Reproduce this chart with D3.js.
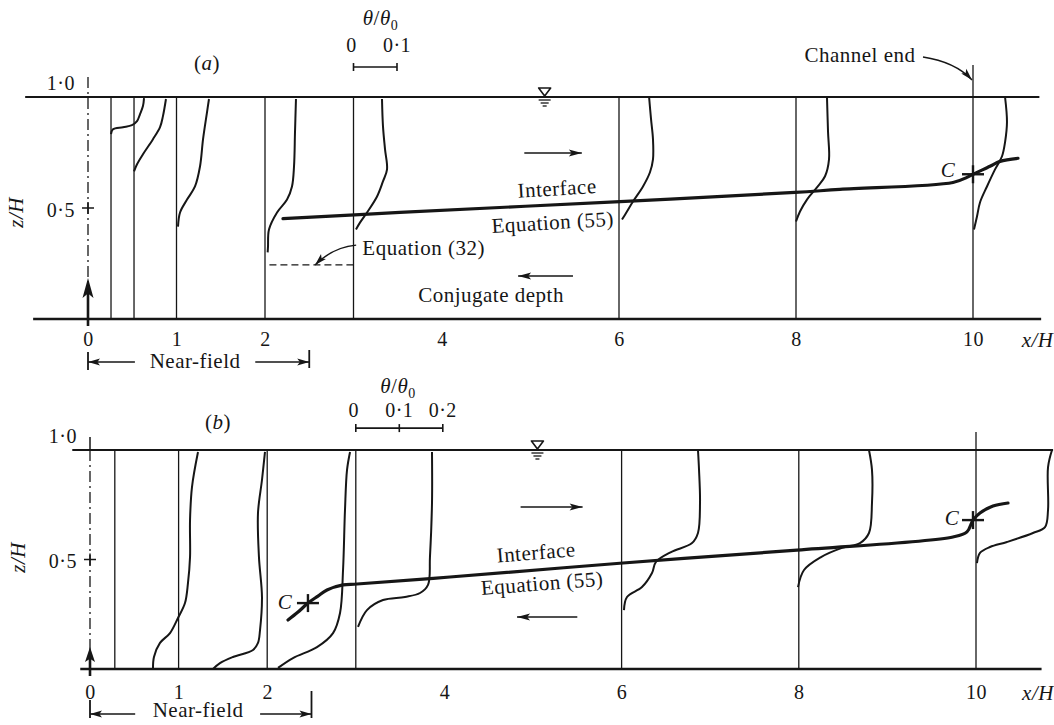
<!DOCTYPE html>
<html>
<head>
<meta charset="utf-8">
<script src="https://cdn.jsdelivr.net/npm/d3@7"></script>
<style>
  body { margin: 0; background: #fff; }
  svg text { font-family: "Liberation Serif", "Times New Roman", serif; fill: #161616; letter-spacing: 0.5px; }
</style>
</head>
<body>
<svg id="fig" width="1054" height="725"></svg>
<script>
// ---- axis ticks -------------------------------------------------------
const xTicks = [0, 1, 2, 4, 6, 8, 10];          // x/H
const zTicks = [0.5, 1.0];                        // z/H
const thetaTicksA = [0, 0.1];                     // θ/θ0 scale bar, panel (a)
const thetaTicksB = [0, 0.1, 0.2];                // θ/θ0 scale bar, panel (b)
const nearField = [0, 2.5];                       // extent of near-field, x/H

// ---- measuring stations (x/H) ---------------------------------------------
const stationsA = [0.26, 0.52, 1, 2, 3, 6, 8, 10];
const stationsB = [0.28, 1, 2, 3, 6, 8, 10];

// ---- panel (a): temperature profiles, points are [x/H, z/H] ----------------
const profA_026 = [[0.26,0.833],[0.282,0.855],[0.395,0.864],[0.497,0.873],[0.554,0.891],[0.588,0.923],[0.621,0.959],[0.633,0.995]];
const profA_052 = [[0.52,0.665],[0.554,0.697],[0.621,0.742],[0.734,0.81],[0.814,0.864],[0.847,0.914],[0.881,0.991]];
const profA_1   = [[1.017,0.416],[1.04,0.48],[1.119,0.538],[1.209,0.597],[1.266,0.688],[1.3,0.81],[1.345,0.932],[1.367,0.991]];
const profA_2   = [[2.03,0.30],[2.034,0.326],[2.045,0.403],[2.136,0.48],[2.249,0.538],[2.305,0.597],[2.328,0.688],[2.339,0.842],[2.35,0.991]];
const profA_3   = [[3.028,0.403],[3.073,0.434],[3.153,0.48],[3.266,0.552],[3.333,0.62],[3.379,0.674],[3.356,0.765],[3.333,0.869],[3.322,0.991]];
const profA_6   = [[6.034,0.448],[6.09,0.484],[6.158,0.529],[6.271,0.597],[6.35,0.661],[6.384,0.719],[6.384,0.81],[6.362,0.9],[6.34,1.0]];
const profA_8   = [[8.0,0.439],[8.045,0.484],[8.124,0.538],[8.237,0.593],[8.328,0.643],[8.373,0.719],[8.362,0.842],[8.35,1.0]];
const profA_10  = [[10.011,0.403],[10.045,0.462],[10.079,0.525],[10.158,0.597],[10.249,0.674],[10.328,0.733],[10.362,0.796],[10.384,0.887],[10.362,1.0]];

// interface, Equation (55), and conjugate depth, Equation (32)
const interfaceA = [[2.203,0.452],[3.525,0.48],[6.011,0.529],[7.989,0.57],[8.497,0.584],[9.774,0.615],[9.932,0.638],[10.0,0.652],[10.192,0.688],[10.305,0.71],[10.508,0.724]];
const conjugateA = [[2.05,0.244],[3.02,0.244]];
const criticalA  = [[10.0,0.652]];

// ---- panel (b): temperature profiles -----------------------------------------
const profB_near1 = [[0.711,0],[0.722,0.055],[0.79,0.119],[0.903,0.164],[0.993,0.233],[1.072,0.301],[1.106,0.393],[1.129,0.511],[1.129,0.68],[1.151,0.831],[1.219,0.991]];
const profB_near2 = [[1.388,0],[1.467,0.027],[1.614,0.055],[1.84,0.087],[1.896,0.119],[1.919,0.178],[1.941,0.329],[1.907,0.511],[1.896,0.712],[1.941,0.863],[1.975,0.991]];
const profB_near3 = [[2.122,0.005],[2.291,0.05],[2.562,0.1],[2.743,0.164],[2.822,0.256],[2.856,0.452],[2.878,0.726],[2.901,0.909],[2.935,0.991]];
const profB_3   = [[3.025,0.192],[3.126,0.269],[3.307,0.315],[3.555,0.329],[3.725,0.347],[3.815,0.384],[3.837,0.511],[3.86,0.758],[3.86,0.991]];
const profB_6   = [[6.027,0.269],[6.061,0.329],[6.23,0.374],[6.343,0.438],[6.388,0.489],[6.558,0.534],[6.795,0.575],[6.862,0.621],[6.885,0.758],[6.874,0.909],[6.862,1.0]];
const profB_8   = [[7.991,0.374],[8.059,0.452],[8.251,0.511],[8.488,0.553],[8.691,0.575],[8.792,0.621],[8.826,0.758],[8.826,0.909],[8.792,1.0]];
const profB_10  = [[10.011,0.484],[10.045,0.53],[10.158,0.557],[10.35,0.58],[10.643,0.621],[10.779,0.648],[10.813,0.726],[10.813,0.922],[10.858,1.0]];

const interfaceB = [[2.235,0.224],[2.348,0.26],[2.46,0.301],[2.573,0.333],[2.675,0.361],[2.856,0.384],[3.014,0.388],[4.063,0.42],[6.016,0.484],[7.98,0.543],[9.74,0.603],[9.898,0.626],[9.966,0.68],[10.045,0.712],[10.192,0.744],[10.361,0.758]];
const criticalB  = [[2.46,0.301],[9.966,0.68]];

// ---------------------------------------------------------------------------
const ink = "#161616";
const svg = d3.select("#fig");

function seg(g, x1, y1, x2, y2, w) {
  return g.append("line").attr("x1", x1).attr("y1", y1).attr("x2", x2).attr("y2", y2)
    .attr("stroke", ink).attr("stroke-width", w);
}
// filled arrow head with its tip at `tip`, pointing away from `from`
function head(g, tip, from, len, wid) {
  const a = Math.atan2(tip[1] - from[1], tip[0] - from[0]);
  const c = Math.cos(a), s = Math.sin(a);
  const bx = tip[0] - len * c, by = tip[1] - len * s;
  const nx = -s * wid / 2, ny = c * wid / 2;
  const mx = tip[0] - len * 0.78 * c, my = tip[1] - len * 0.78 * s;
  g.append("path")
    .attr("d", `M${tip[0]},${tip[1]}L${bx + nx},${by + ny}L${mx},${my}L${bx - nx},${by - ny}Z`)
    .attr("fill", ink);
}
function arrow(g, from, to, len = 13, wid = 7, w = 1.5) {
  seg(g, from[0], from[1], to[0], to[1], w);
  head(g, to, from, len, wid);
}
function curvedArrow(g, from, ctrl, to, len = 12, wid = 7) {
  g.append("path").attr("d", `M${from[0]},${from[1]}Q${ctrl[0]},${ctrl[1]} ${to[0]},${to[1]}`)
    .attr("fill", "none").attr("stroke", ink).attr("stroke-width", 1.4);
  head(g, to, ctrl, len, wid);
}
function label(g, str, px, py, o = {}) {
  const t = g.append("text")
    .attr("transform", `translate(${px},${py}) rotate(${o.rotate || 0})`)
    .attr("text-anchor", o.anchor || "middle")
    .attr("dy", o.dy || "0.35em")
    .attr("font-size", o.size || 21);
  if (o.italic) t.attr("font-style", "italic");
  t.text(str);
  return t;
}
const fmt1 = d => d === 0 ? "0" : d3.format(".1f")(d).replace(".", "·");

function drawPanel(p) {
  const x = d3.scaleLinear().domain([0, 10]).range(p.xr);
  const z = d3.scaleLinear().domain([0, 1]).range(p.zr);
  const g = svg.append("g");
  const line = d3.line().x(d => x(d[0])).y(d => z(d[1])).curve(d3.curveCatmullRom.alpha(0.5));

  // free surface and channel bed
  seg(g, x(p.surf[0]), z(1), x(p.surf[1]), z(1), 2.2);
  seg(g, x(p.bed[0]), z(0), x(p.bed[1]), z(0), 2.4);

  // station reference lines (θ = 0)
  g.append("g").selectAll("line").data(p.stations).join("line")
    .attr("x1", d => x(d)).attr("x2", d => x(d))
    .attr("y1", z(0)).attr("y2", d => z(d === 10 ? p.endTop : 1))
    .attr("stroke", ink).attr("stroke-width", 1.3);

  // temperature profiles
  g.append("g").selectAll("path").data(p.profiles).join("path")
    .attr("d", line).attr("fill", "none").attr("stroke", ink)
    .attr("stroke-width", 2).attr("stroke-linejoin", "round");

  // interface
  g.append("path").datum(p.iface).attr("d", line).attr("fill", "none")
    .attr("stroke", ink).attr("stroke-width", 3.2).attr("stroke-linecap", "round");

  // critical sections C
  p.crit.forEach(c => {
    const cx = x(c[0]), cy = z(c[1]);
    seg(g, cx - 11, cy, cx + 11, cy, 2.4);
    seg(g, cx, cy - 9, cx, cy + 9, 2.4);
  });

  // source line x = 0 with inflow arrow
  g.append("line").attr("x1", x(0)).attr("x2", x(0))
    .attr("y1", z(p.dashTop)).attr("y2", z(p.arrowTip) + p.headLen)
    .attr("stroke", ink).attr("stroke-width", 1.3).attr("stroke-dasharray", "11,4,2,4");
  seg(g, x(0), z(0) + 7, x(0), z(p.arrowTip) + p.headLen * 0.7, 2.6);
  head(g, [x(0), z(p.arrowTip)], [x(0), z(0)], p.headLen, p.headWid);

  // x axis labels
  const ax = g.append("g").attr("transform", `translate(0,${z(0)})`)
    .call(d3.axisBottom(x).tickValues(xTicks).tickSize(0).tickPadding(p.tickPad).tickFormat(d3.format("d")));
  ax.select(".domain").remove();
  ax.attr("font-family", null).attr("font-size", 20);
  ax.selectAll("text").attr("fill", ink);
  g.append("text").attr("x", x(p.xLabelAt)).attr("y", z(0) + p.tickPad).attr("dy", "0.71em")
    .attr("font-size", 21).attr("font-style", "italic").text("x/H");

  // z axis labels
  const ay = g.append("g").attr("transform", `translate(${x(0)},0)`)
    .call(d3.axisLeft(z).tickValues(zTicks).tickSize(0).tickPadding(13).tickFormat(fmt1));
  ay.select(".domain").remove();
  ay.attr("font-family", null).attr("font-size", 20);
  ay.selectAll("text").attr("fill", ink);
  ay.selectAll(".tick").filter(d => d === 1).select("text").attr("y", -14);
  ay.selectAll(".tick").filter(d => d === 0.5).select("text").attr("y", 2);
  seg(g, x(0) - 6, z(0.5), x(0) + 6, z(0.5), 1.5);
  seg(g, x(0), z(0.5) - 6, x(0), z(0.5) + 6, 1.5);
  if (p.topTick) seg(g, x(0), z(1), x(0), z(1) - 13, 1.5);
  label(g, "z/H", x(0) - 72, z(p.zLabelAt), { rotate: -90, italic: true });

  // θ/θ0 scale bar, anchored at station x/H = 3
  const th = d3.scaleLinear().domain([0, 0.1]).range([x(3), x(3) + 43.5]);
  const by = z(p.barZ);
  seg(g, th(0), by, th(d3.max(p.thetaTicks)), by, 1.6);
  p.thetaTicks.forEach(t => seg(g, th(t), by - 4, th(t), by + 4, 1.6));
  g.append("g").selectAll("text").data(p.thetaTicks).join("text")
    .attr("x", d => th(d) + (d === 0 ? -2 : 0)).attr("y", by - p.barTickGap)
    .attr("text-anchor", "middle").attr("font-size", 20).text(fmt1);
  const tl = g.append("text").attr("x", th(p.thetaLabelAt)).attr("y", by - p.barTitleGap)
    .attr("text-anchor", "middle").attr("font-size", 21);
  tl.append("tspan").attr("font-style", "italic").text("θ");
  tl.append("tspan").text("/");
  tl.append("tspan").attr("font-style", "italic").text("θ");
  tl.append("tspan").attr("font-size", 14).attr("dy", 5).text("0");

  // free-surface symbol
  const sx = x(p.surfSymbol), sy = z(1);
  g.append("path").attr("d", `M${sx - 6},${sy - 9}L${sx + 6},${sy - 9}L${sx},${sy - 1}Z`)
    .attr("fill", "#fff").attr("stroke", ink).attr("stroke-width", 1.6).attr("stroke-linejoin", "round");
  seg(g, sx - 6, sy + 3, sx + 6, sy + 3, 1.3);
  seg(g, sx - 4, sy + 6, sx + 4, sy + 6, 1.3);
  seg(g, sx - 2, sy + 9, sx + 2, sy + 9, 1.3);

  // flow direction arrows
  arrow(g, [x(p.flowUpper[0]), z(p.flowUpper[2])], [x(p.flowUpper[1]), z(p.flowUpper[2])]);
  arrow(g, [x(p.flowLower[0]), z(p.flowLower[2])], [x(p.flowLower[1]), z(p.flowLower[2])]);

  // near-field bracket
  const ny = z(0) + p.nearY;
  arrow(g, [x(p.nearArrows[0]), ny], [x(nearField[0]), ny], 12, 7, 1.5);
  arrow(g, [x(p.nearArrows[1]), ny], [x(nearField[1]), ny], 12, 7, 1.5);
  seg(g, x(nearField[0]), z(0) + p.leftBar[0], x(nearField[0]), z(0) + p.leftBar[1], 1.8);
  seg(g, x(nearField[1]), z(0) + p.rightBar[0], x(nearField[1]), z(0) + p.rightBar[1], 1.8);
  label(g, "Near-field", x(p.nearText), z(0) + p.nearTextY);

  // panel tag, interface labels, C labels
  const tag = g.append("text").attr("x", x(p.tagAt[0])).attr("y", z(p.tagAt[1])).attr("dy", "0.35em")
    .attr("text-anchor", "middle").attr("font-size", 21);
  tag.append("tspan").text("(");
  tag.append("tspan").attr("font-style", "italic").text(p.tag);
  tag.append("tspan").text(")");
  label(g, "Interface", x(p.ifaceText[0]), z(p.ifaceText[1]), { rotate: p.textTilt });
  label(g, "Equation (55)", x(p.eqText[0]), z(p.eqText[1]), { rotate: p.textTilt });
  p.cLabels.forEach(c => label(g, "C", x(c[0]), z(c[1]), { italic: true }));

  return { g, x, z };
}

// ---- panel (a) ----------------------------------------------------------------
const A = drawPanel({
  xr: [88, 973], zr: [319, 97],
  surf: [-0.71, 10.75], bed: [-0.62, 10.77],
  stations: stationsA, endTop: 1.144,
  profiles: [profA_026, profA_052, profA_1, profA_2, profA_3, profA_6, profA_8, profA_10],
  iface: interfaceA, crit: criticalA,
  dashTop: 1.09, arrowTip: 0.185, headLen: 20, headWid: 11,
  tickPad: 13, xLabelAt: 10.55, zLabelAt: 0.48, topTick: false,
  thetaTicks: thetaTicksA, barZ: 1.135, barTickGap: 15, barTitleGap: 42, thetaLabelAt: 0.062,
  surfSymbol: 5.16,
  flowUpper: [4.93, 5.58, 0.748], flowLower: [5.48, 4.86, 0.194],
  nearY: 43, nearArrows: [0.53, 1.89], leftBar: [33, 51], rightBar: [31, 49], nearText: 1.21, nearTextY: 42,
  tag: "a", tagAt: [1.345, 1.153],
  ifaceText: [5.3, 0.59], eqText: [5.25, 0.437], textTilt: -3.5,
  cLabels: [[9.718, 0.671]]
});

// conjugate depth, Equation (32)
A.g.append("line")
  .attr("x1", A.x(conjugateA[0][0])).attr("y1", A.z(conjugateA[0][1]))
  .attr("x2", A.x(conjugateA[1][0])).attr("y2", A.z(conjugateA[1][1]))
  .attr("stroke", ink).attr("stroke-width", 1.4).attr("stroke-dasharray", "7,4");
label(A.g, "Equation (32)", A.x(3.1), A.z(0.32), { anchor: "start" });
curvedArrow(A.g, [A.x(3.03), A.z(0.333)], [A.x(2.768), A.z(0.324)], [A.x(2.565), A.z(0.243)]);
label(A.g, "Conjugate depth", A.x(4.554), A.z(0.108));

// channel end
label(A.g, "Channel end", A.x(8.723), A.z(1.189));
curvedArrow(A.g, [A.x(9.435), A.z(1.18)], [A.x(9.797), A.z(1.158)], [A.x(9.989), A.z(1.077)]);

// ---- panel (b) ----------------------------------------------------------------
drawPanel({
  xr: [90, 976], zr: [669, 450],
  surf: [-0.2, 10.87], bed: [-0.11, 10.74],
  stations: stationsB, endTop: 1.082,
  profiles: [profB_near1, profB_near2, profB_near3, profB_3, profB_6, profB_8, profB_10],
  iface: interfaceB, crit: criticalB,
  dashTop: 1.0, arrowTip: 0.1, headLen: 15, headWid: 10,
  tickPad: 16, xLabelAt: 10.52, zLabelAt: 0.51, topTick: true,
  thetaTicks: thetaTicksB, barZ: 1.1, barTickGap: 11, barTitleGap: 35, thetaLabelAt: 0.097,
  surfSymbol: 5.05,
  flowUpper: [4.86, 5.56, 0.74], flowLower: [5.5, 4.82, 0.237],
  nearY: 45, nearArrows: [0.51, 1.92], leftBar: [31, 49], rightBar: [22, 49], nearText: 1.22, nearTextY: 41,
  tag: "b", tagAt: [1.445, 1.128],
  ifaceText: [5.034, 0.534], eqText: [5.102, 0.393], textTilt: -4.5,
  cLabels: [[2.2, 0.306], [9.729, 0.689]]
});
</script>
</body>
</html>
